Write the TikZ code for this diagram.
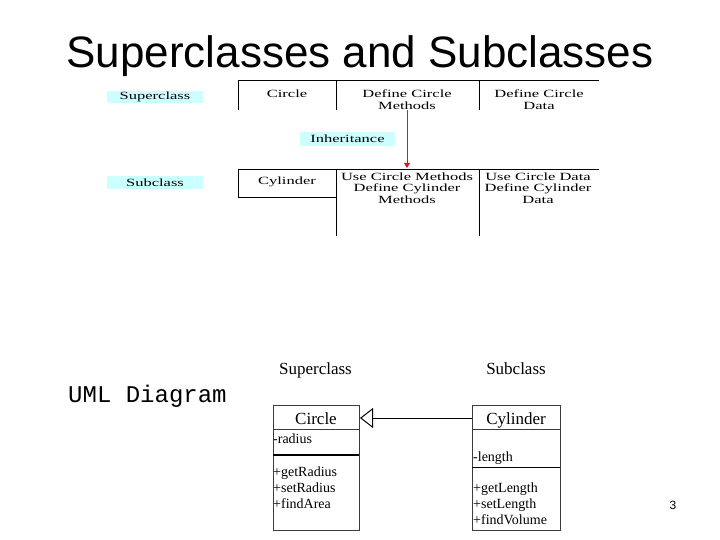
\documentclass[tikz,border=0pt]{standalone}
\usepackage{fontspec}
\setmainfont{Liberation Serif}
\newfontfamily\titlefont{Liberation Sans}
\newfontfamily\codefont{Liberation Mono}
\newfontfamily\widefont[FakeStretch=1.5]{Liberation Serif}
\usetikzlibrary{arrows.meta}
\definecolor{labelcyan}{RGB}{204,255,255}
\definecolor{inhred}{RGB}{200,30,40}
\definecolor{boxgray}{RGB}{60,60,60}
\begin{document}
\begin{tikzpicture}[x=1pt,y=-1pt,
  tabletext/.style={font=\widefont\fontsize{11}{11.5}\selectfont, align=center, inner sep=0pt},
  labelbox/.style={fill=labelcyan, inner sep=0pt, minimum height=12pt, font=\widefont\fontsize{11}{11.5}\selectfont},
  tableline/.style={line width=0.8pt, black},
  umlbox/.style={draw=boxgray, line width=1pt},
  membertext/.style={font=\fontsize{14}{16}\selectfont, anchor=base west, inner sep=0pt},
  headtext/.style={font=\fontsize{17}{19}\selectfont, anchor=base, inner sep=0pt}
]
\useasboundingbox (0,0) rectangle (720,540);

% title
\node[anchor=base, inner sep=0pt, font=\titlefont\fontsize{44}{50}\selectfont] (title) at (360,68) {Superclasses and Subclasses};

% ---- top picture ----
\draw[tableline] (238,80) -- (599,80);
\draw[tableline] (238,80) -- (238,110);
\draw[tableline] (336,80) -- (336,110);
\draw[tableline] (479,80) -- (479,110);

\node[labelbox, minimum width=96pt] (superlbl) at (155,97) {Superclass};
\node[tabletext] (tcircle) at (287,94) {Circle};
\node[tabletext] (tcirmeth) at (407,99.5) {Define Circle\\Methods};
\node[tabletext] (tcirdata) at (539,99.5) {Define Circle\\Data};

\node[labelbox, minimum width=95pt, minimum height=14pt] (inh) at (347.5,139) {Inheritance};

\coordinate (arrtop) at (407,110);
\coordinate (arrbot) at (407,168);
\draw[inhred, line width=0.8pt, -{Triangle[length=5pt,width=6pt]}] (arrtop) -- (arrbot);

\draw[tableline] (238,169) -- (599,169);
\draw[tableline] (238,169) -- (238,197) -- (336,197);
\draw[tableline] (336,169) -- (336,236);
\draw[tableline] (479,169) -- (479,236);

\node[labelbox, minimum width=96pt, minimum height=13pt] (sublbl) at (155,183) {Subclass};
\node[tabletext] (tcyl) at (287,182) {Cylinder};
\node[tabletext] (tcylmeth) at (407,188) {Use Circle Methods\\Define Cylinder\\Methods};
\node[tabletext] (tcyldata) at (538,188) {Use Circle Data\\Define Cylinder\\Data};

% ---- UML ----
\node[anchor=base west, inner sep=0pt, font=\codefont\fontsize{24}{26}\selectfont] (uml) at (68,402) {UML Diagram};

\node[headtext] (supertxt) at (315.5,374) {Superclass};
\node[headtext] (subtxt) at (516,374) {Subclass};

% Circle class box
\node[umlbox, minimum width=86pt, minimum height=125pt, inner sep=0pt, anchor=north west] (circlebox) at (273,405) {};
\draw[boxgray, line width=1pt] (273,429) -- (359,429);
\draw[black, line width=2pt] (273,455) -- (359,455);
\node[headtext] (circlehead) at (316,424) {Circle};
\node[membertext] (radius) at (273,443) {-radius};
\node[membertext] (getr) at (273,476) {+getRadius};
\node[membertext] (setr) at (273,492) {+setRadius};
\node[membertext] (finda) at (273,508) {+findArea};

% Cylinder class box
\node[umlbox, minimum width=88pt, minimum height=125pt, inner sep=0pt, anchor=north west] (cylbox) at (472,405) {};
\draw[boxgray, line width=1pt] (472,429) -- (560,429);
\draw[black, line width=1pt] (472,467) -- (560,467);
\node[headtext] (cylhead) at (516,424) {Cylinder};
\node[membertext] (len) at (473,461) {-length};
\node[membertext] (getl) at (473,492) {+getLength};
\node[membertext] (setl) at (473,508) {+setLength};
\node[membertext] (findv) at (473,524) {+findVolume};

\draw[black, line width=1pt, -{Triangle[open, length=13pt, width=20pt, fill=white]}] (cylbox.west |- 0,418) -- (circlebox.east |- 0,418);

% page number
\node[anchor=base, inner sep=0pt, font=\titlefont\fontsize{12}{14}\selectfont] (pagenum) at (673,509) {3};
\end{tikzpicture}
\end{document}
